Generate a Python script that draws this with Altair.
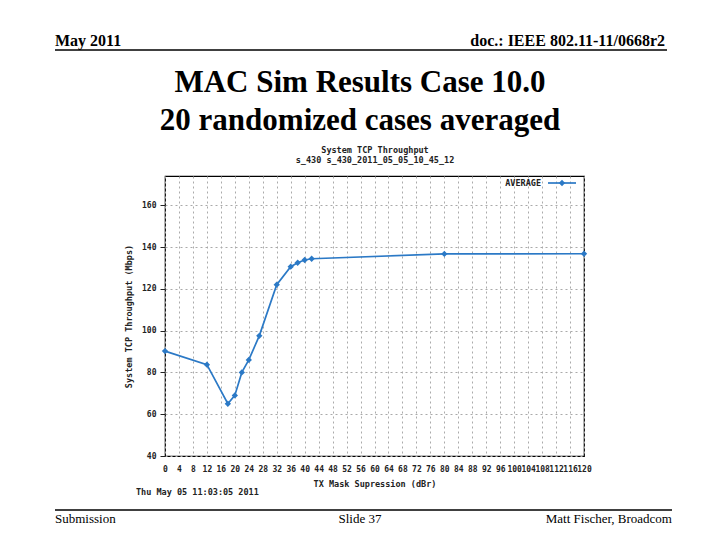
import altair as alt
import pandas as pd

# Data
tx_mask = [0, 12, 18, 20, 22, 24, 27, 32, 36, 38, 40, 42, 80, 120]
throughput = [90.2, 83.7, 65.0, 69.0, 80.0, 86.0, 97.5, 122.0, 130.6, 132.5, 133.8, 134.4, 136.7, 136.8]
x_ticks = list(range(0, 121, 4))
y_ticks = [40, 60, 80, 100, 120, 140, 160]

df = pd.DataFrame({"x": tx_mask, "y": throughput})
one = pd.DataFrame({"a": [0]})

# Plot-area origin on the page is (165, 176)
OX, OY = 165, 176
W, H = 419, 280
BLUE = "#2b79c6"
MONO = "DejaVu Sans Mono"
SERIF = "Liberation Serif"

xs = alt.Scale(domain=[0, 120], nice=False, zero=False)
ys = alt.Scale(domain=[40, 174], nice=False, zero=False)

line = alt.Chart(df).mark_line(
    color=BLUE, strokeWidth=1.7,
    point=alt.OverlayMarkDef(shape="diamond", filled=True, size=40, color=BLUE, opacity=1),
).encode(
    x=alt.X("x:Q", scale=xs, axis=alt.Axis(
        values=x_ticks, title="TX Mask Supression (dBr)", labelOverlap=False,
        labelFlush=False, ticks=False, labelPadding=9, labelFont=MONO,
        labelFontSize=8, labelFontWeight="bold", labelColor="#222",
        titleFont=MONO, titleFontSize=8.5, titleFontWeight="bold", titleColor="#222",
        titlePadding=6, grid=True, gridDash=[2, 3], gridColor="#aaa",
        domain=False)),
    y=alt.Y("y:Q", scale=ys, axis=alt.Axis(
        values=y_ticks, title="System TCP Throughput (Mbps)", ticks=True,
        tickSize=5, tickColor="#222", labelPadding=4, labelFont=MONO,
        labelFontSize=8, labelFontWeight="bold", labelColor="#222",
        titleFont=MONO, titleFontSize=8.5, titleFontWeight="bold", titleColor="#222",
        titlePadding=8, grid=True, gridDash=[2, 3], gridColor="#aaa",
        domain=False)),
)


def txt(s, px, py, size, font, weight="normal", align="left", color="black"):
    return alt.Chart(one).mark_text(
        text=s, font=font, fontSize=size, fontWeight=weight, align=align,
        baseline="alphabetic", color=color
    ).encode(x=alt.value(px - OX), y=alt.value(py - OY))


def rule(x1, x2, y, width=1.0, color="black"):
    return alt.Chart(one).mark_rule(color=color, strokeWidth=width).encode(
        x=alt.value(x1 - OX), x2=alt.value(x2 - OX), y=alt.value(y - OY))


layers = [
    line,
    # slide header/footer
    txt("May 2011", 55, 46, 16, SERIF, "bold"),
    txt("doc.: IEEE 802.11-11/0668r2", 665, 46, 16, SERIF, "bold", "right"),
    rule(55, 667, 50, 1.5),
    txt("MAC Sim Results Case 10.0", 360, 92, 31, SERIF, "bold", "center"),
    txt("20 randomized cases averaged", 360, 130, 31, SERIF, "bold", "center"),
    rule(55, 672, 510, 1.5),
    txt("Submission", 55, 523, 13, SERIF),
    txt("Slide 37", 360, 523, 13, SERIF, "normal", "center"),
    txt("Matt Fischer, Broadcom", 672, 523, 13, SERIF, "normal", "right"),
    # gnuplot titles
    txt("System TCP Throughput", 375, 153, 8.5, MONO, "bold", "center", "#222"),
    txt("s_430 s_430_2011_05_05_10_45_12", 375, 163, 8.5, MONO, "bold", "center", "#222"),
    txt("Thu May 05 11:03:05 2011", 136, 495, 8.5, MONO, "bold", "left", "#222"),
    # legend
    txt("AVERAGE", 541, 186, 8.5, MONO, "bold", "right", "#222"),
    rule(548, 576, 183, 1.7, BLUE),
    alt.Chart(one).mark_point(shape="diamond", filled=True, size=40, color=BLUE, opacity=1).encode(
        x=alt.value(562 - OX), y=alt.value(183 - OY)),
]

chart = alt.layer(*layers).properties(
    width=W, height=H,
    autosize=alt.AutoSizeParams(type="none"),
    padding={"left": OX - 8, "top": OY - 8, "right": 720 - 16 - (OX - 8) - W, "bottom": 540 - 16 - (OY - 8) - H},
    background="white",
).configure_view(stroke="black", strokeWidth=1.2)

chart.save("out.html", embed_options={"renderer": "svg", "actions": False})
